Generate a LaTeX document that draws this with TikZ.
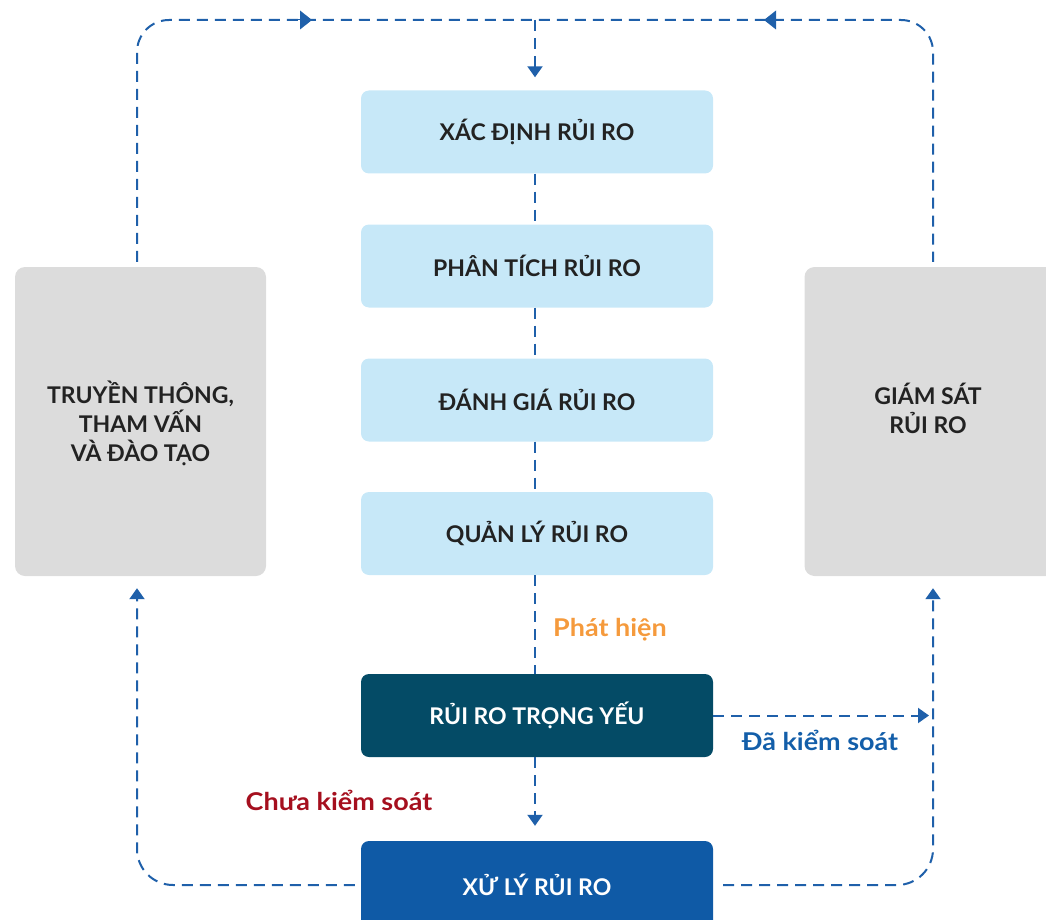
\documentclass[tikz,border=0pt]{standalone}
\usepackage{fontspec}
\setmainfont{Lato}[BoldFont={* Bold}]
\newfontfamily\lblfont{Lato}[BoldFont={* Bold}, FakeStretch=1.1]
\usetikzlibrary{arrows.meta,positioning}
\definecolor{lnblue}{HTML}{1F60AA}
\definecolor{lightbox}{HTML}{C7E8F8}
\definecolor{graybox}{HTML}{DCDCDC}
\definecolor{darkteal}{HTML}{044B66}
\definecolor{midblue}{HTML}{0F5AA6}
\definecolor{txtdark}{HTML}{222222}
\definecolor{orangetxt}{HTML}{F59A3C}
\definecolor{redtxt}{HTML}{A50F1E}
\definecolor{bluetxt}{HTML}{135EA9}
\tikzset{
  x=1pt, y=-1pt,
  stepbox/.style={rectangle, rounded corners=8pt, minimum width=352pt, minimum height=83pt, inner sep=0pt, font=\fontsize{23}{27}\selectfont\bfseries},
  lightstep/.style={stepbox, fill=lightbox, text=txtdark},
  sidebox/.style={rectangle, rounded corners=10pt, fill=graybox, minimum width=251pt, minimum height=309pt, inner sep=0pt},
  sidetext/.style={align=center, text=txtdark, inner sep=0pt, font=\fontsize{23}{29}\selectfont\bfseries},
  flow/.style={draw=lnblue, line width=2pt, dash pattern=on 11pt off 7pt},
  tipend/.style={-{Triangle[length=11pt,width=15pt]}},
  midtip/.style={draw=lnblue, fill=lnblue, line width=0pt, -{Triangle[length=12pt,width=19pt]}},
  lbl/.style={font=\lblfont\fontsize{24.5}{28}\selectfont\bfseries, inner sep=0pt}
}
\begin{document}
\begin{tikzpicture}
\useasboundingbox (0,0) rectangle (1046,920);
% nodes
\node[lightstep] (xd) at (537,132) {XÁC ĐỊNH RỦI RO};
\node[lightstep] (pt) at (537,266) {PHÂN TÍCH RỦI RO};
\node[lightstep] (dg) at (537,400) {ĐÁNH GIÁ RỦI RO};
\node[lightstep] (ql) at (537,533.5) {QUẢN LÝ RỦI RO};
\node[stepbox, fill=darkteal, text=white] (ty) at (537,715.5) {RỦI RO TRỌNG YẾU};
\node[stepbox, fill=midblue, text=white, minimum height=88pt] (xl) at (537,885) {XỬ LÝ RỦI RO};
\node[sidebox] (tt) at (140.5,421.5) {};
\node[sidetext] (ttt) at (140.5,423) {TRUYỀN THÔNG,\\THAM VẤN\\VÀ ĐÀO TẠO};
\node[sidebox] (gs) at (930,421.5) {};
\node[sidetext] (gst) at (928,408) {GIÁM SÁT\\RỦI RO};
% helper coordinates
\coordinate (lx) at (137,0);
\coordinate (rx) at (933,0);
\coordinate (topy) at (0,20);
\coordinate (boty) at (0,885);
\coordinate (topjoin) at (535,20);
% top loop
\draw[flow, rounded corners=32pt] ([yshift=5pt]tt.north -| lx) -- (lx |- topy) -- (rx |- topy) -- ([yshift=5pt]gs.north -| rx);
\draw[midtip] (296,20) -- (312,20);
\draw[midtip] (780,20) -- (764,20);
\draw[flow, tipend] (topjoin) -- ([yshift=13pt]xd.north -| topjoin);
% main column
\draw[flow] (xd.south -| topjoin) -- (pt.north -| topjoin);
\draw[flow] (pt.south -| topjoin) -- (dg.north -| topjoin);
\draw[flow] (dg.south -| topjoin) -- (ql.north -| topjoin);
\draw[flow] (ql.south -| topjoin) -- (ty.north -| topjoin);
\draw[flow, tipend] (ty.south -| topjoin) -- ([yshift=15pt]xl.north -| topjoin);
\draw[flow, tipend] (ty.east) -- ([xshift=-4pt]ty.east -| rx);
% bottom loops
\draw[flow, tipend, rounded corners=36pt] ([xshift=-6pt]xl.west) -- (lx |- boty) -- ([yshift=-12pt]tt.south -| lx);
\draw[flow, tipend, rounded corners=36pt] ([xshift=10pt]xl.east) -- (rx |- boty) -- ([yshift=-12pt]gs.south -| rx);
% labels
\node[lbl, text=orangetxt] (ph) at (610,630) {Phát hiện};
\node[lbl, text=bluetxt] (dk) at (820,740) {Đã kiểm soát};
\node[lbl, text=redtxt] (ck) at (339,800) {Chưa kiểm soát};
\end{tikzpicture}
\end{document}
